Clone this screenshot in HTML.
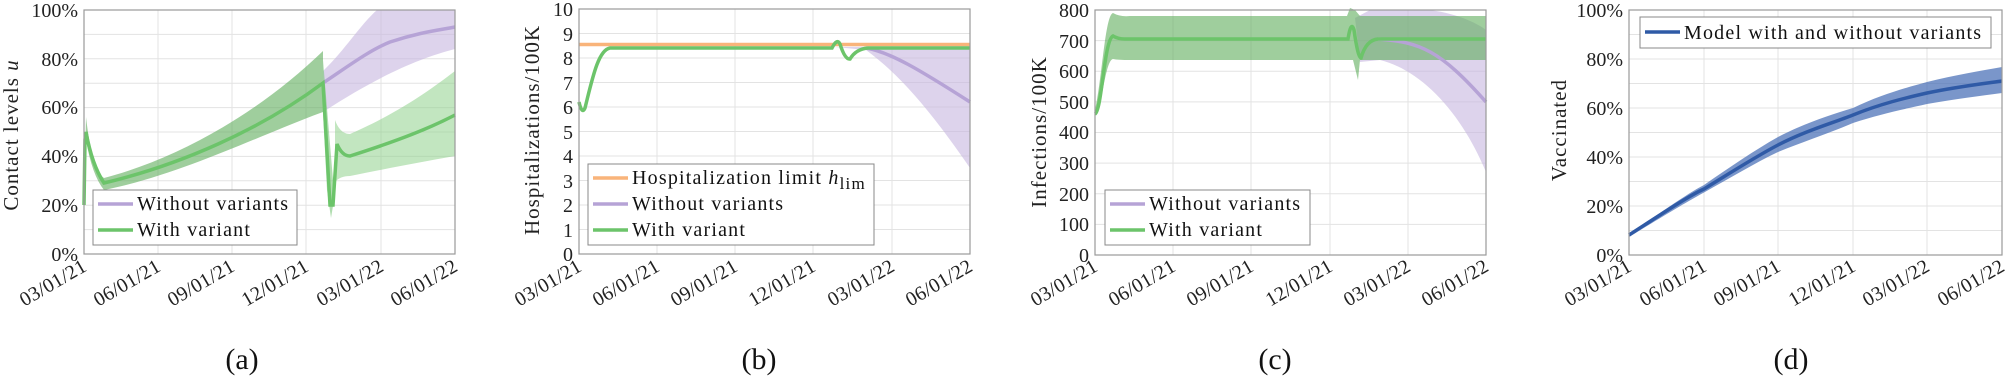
<!DOCTYPE html>
<html><head><meta charset="utf-8"><style>
html,body{margin:0;padding:0;background:#fff;}
svg{display:block;font-family:"Liberation Serif",serif;}
.g{stroke:#e3e3e3;stroke-width:1;}
.ax{fill:none;stroke:#9a9a9a;stroke-width:1.2;}
.t{font-size:20px;fill:#222;}
.xt{font-size:20px;fill:#222;letter-spacing:0.3px;}
.cap{font-size:30px;fill:#111;text-anchor:middle;}
.lg{font-size:20px;fill:#111;letter-spacing:1.2px;}
.yt{font-size:21px;fill:#222;letter-spacing:1px;}
</style></head><body>
<svg width="2007" height="377" viewBox="0 0 2007 377">
<!-- ===== Panel A ===== -->
<g>
<g class="g">
<line x1="84" y1="229.6" x2="455" y2="229.6"/><line x1="84" y1="205.2" x2="455" y2="205.2"/><line x1="84" y1="180.8" x2="455" y2="180.8"/><line x1="84" y1="156.4" x2="455" y2="156.4"/><line x1="84" y1="132" x2="455" y2="132"/><line x1="84" y1="107.6" x2="455" y2="107.6"/><line x1="84" y1="83.2" x2="455" y2="83.2"/><line x1="84" y1="58.8" x2="455" y2="58.8"/><line x1="84" y1="34.4" x2="455" y2="34.4"/>
<line x1="158" y1="10" x2="158" y2="254"/><line x1="232" y1="10" x2="232" y2="254"/><line x1="306" y1="10" x2="306" y2="254"/><line x1="381" y1="10" x2="381" y2="254"/>
</g>
<path d="M323,71 C345,50 360,25 377,10 L455,10 L455,49 C420,58 380,75 323,112 Z" fill="#c6b6df" opacity="0.6"/>
<path d="M84,205 L86,117 Q92,170 104,178 C180,158 260,112 323,51 L323,112 C260,135 180,175 104,190 Q92,175 86,140 L84,212 Z" fill="#5fae5c" opacity="0.6"/>
<path d="M323,60 L323,112 L327,190 L331,218 L334,200 L333,180 Z" fill="#7cc77a" opacity="0.6"/>
<path d="M335,120 Q340,134 350,134 C400,112 430,90 455,71 L455,156 C420,162 380,170 350,176 Q340,176 335,182 Z" fill="#8fd18c" opacity="0.55"/>
<path d="M323,83 C350,65 370,50 390,42 C420,32 440,30 455,27" fill="none" stroke="#b6a3d6" stroke-width="3.5"/>
<path d="M84,205 L85,140 L86,132 Q92,165 104,183 C180,165 260,130 323,83 L330,205 L333,205 L337,144 Q342,156 350,156 C400,140 430,128 455,115" fill="none" stroke="#6cc46a" stroke-width="3.5"/>
<rect x="84" y="10" width="371" height="244" class="ax"/>
<g class="t" text-anchor="end">
<text x="78" y="261">0%</text><text x="78" y="212">20%</text><text x="78" y="163">40%</text><text x="78" y="114">60%</text><text x="78" y="66">80%</text><text x="78" y="17">100%</text>
</g>
<g class="xt" text-anchor="end">
<text transform="translate(88,270) rotate(-30)">03/01/21</text><text transform="translate(162,270) rotate(-30)">06/01/21</text><text transform="translate(236,270) rotate(-30)">09/01/21</text><text transform="translate(310,270) rotate(-30)">12/01/21</text><text transform="translate(385,270) rotate(-30)">03/01/22</text><text transform="translate(459,270) rotate(-30)">06/01/22</text>
</g>
<text transform="translate(18,135) rotate(-90)" class="yt" text-anchor="middle">Contact levels <tspan font-style="italic">u</tspan></text>
<rect x="93" y="190" width="204" height="55" fill="#fff" stroke="#888" stroke-width="1"/>
<line x1="98" y1="204" x2="133" y2="204" stroke="#b6a3d6" stroke-width="3.5"/><text x="137" y="210" class="lg">Without variants</text>
<line x1="98" y1="230" x2="133" y2="230" stroke="#6cc46a" stroke-width="3.5"/><text x="137" y="236" class="lg">With variant</text>
<text x="242" y="369" class="cap">(a)</text>
</g>

<!-- ===== Panel B ===== -->
<g>
<g class="g">
<line x1="579" y1="229.5" x2="970" y2="229.5"/><line x1="579" y1="205" x2="970" y2="205"/><line x1="579" y1="180.5" x2="970" y2="180.5"/><line x1="579" y1="156" x2="970" y2="156"/><line x1="579" y1="131.5" x2="970" y2="131.5"/><line x1="579" y1="107" x2="970" y2="107"/><line x1="579" y1="82.5" x2="970" y2="82.5"/><line x1="579" y1="58" x2="970" y2="58"/><line x1="579" y1="33.5" x2="970" y2="33.5"/>
<line x1="657" y1="9" x2="657" y2="254"/><line x1="735" y1="9" x2="735" y2="254"/><line x1="813" y1="9" x2="813" y2="254"/><line x1="892" y1="9" x2="892" y2="254"/>
</g>
<path d="M835,47 L970,46 L970,168 C930,110 900,75 866,50 Z" fill="#c6b6df" opacity="0.6"/>
<line x1="579" y1="44.5" x2="970" y2="44.5" stroke="#f9b47a" stroke-width="3.5"/>
<path d="M866,48 C890,52 920,70 970,102" fill="none" stroke="#b6a3d6" stroke-width="3.5"/>
<path d="M579,102 Q582,115 585,108 C592,80 598,50 610,48 L832,48 Q837,38 840,44 Q845,60 850,59 Q856,49 868,48 L970,48" fill="none" stroke="#6cc46a" stroke-width="3.5"/>
<rect x="579" y="9" width="391" height="245" class="ax"/>
<g class="t" text-anchor="end">
<text x="573" y="261">0</text><text x="573" y="237">1</text><text x="573" y="212">2</text><text x="573" y="188">3</text><text x="573" y="163">4</text><text x="573" y="139">5</text><text x="573" y="114">6</text><text x="573" y="90">7</text><text x="573" y="65">8</text><text x="573" y="41">9</text><text x="573" y="16">10</text>
</g>
<g class="xt" text-anchor="end">
<text transform="translate(583,270) rotate(-30)">03/01/21</text><text transform="translate(661,270) rotate(-30)">06/01/21</text><text transform="translate(739,270) rotate(-30)">09/01/21</text><text transform="translate(817,270) rotate(-30)">12/01/21</text><text transform="translate(896,270) rotate(-30)">03/01/22</text><text transform="translate(974,270) rotate(-30)">06/01/22</text>
</g>
<text transform="translate(539,130) rotate(-90)" class="yt" text-anchor="middle">Hospitalizations/100K</text>
<rect x="588" y="164" width="286" height="81" fill="#fff" stroke="#888" stroke-width="1"/>
<line x1="593" y1="178" x2="628" y2="178" stroke="#f9b47a" stroke-width="3.5"/><text x="632" y="184" class="lg">Hospitalization limit <tspan font-style="italic">h</tspan><tspan font-size="17" dy="5">lim</tspan></text>
<line x1="593" y1="204" x2="628" y2="204" stroke="#b6a3d6" stroke-width="3.5"/><text x="632" y="210" class="lg">Without variants</text>
<line x1="593" y1="230" x2="628" y2="230" stroke="#6cc46a" stroke-width="3.5"/><text x="632" y="236" class="lg">With variant</text>
<text x="759" y="369" class="cap">(b)</text>
</g>

<!-- ===== Panel C ===== -->
<g>
<g class="g">
<line x1="1095" y1="224.4" x2="1486" y2="224.4"/><line x1="1095" y1="193.8" x2="1486" y2="193.8"/><line x1="1095" y1="163.1" x2="1486" y2="163.1"/><line x1="1095" y1="132.5" x2="1486" y2="132.5"/><line x1="1095" y1="101.9" x2="1486" y2="101.9"/><line x1="1095" y1="71.3" x2="1486" y2="71.3"/><line x1="1095" y1="40.6" x2="1486" y2="40.6"/>
<line x1="1173" y1="10" x2="1173" y2="255"/><line x1="1251" y1="10" x2="1251" y2="255"/><line x1="1330" y1="10" x2="1330" y2="255"/><line x1="1408" y1="10" x2="1408" y2="255"/>
</g>
<path d="M1355,18 L1370,10 L1430,10 C1460,14 1480,25 1486,30 L1486,172 C1460,110 1420,70 1380,60 L1360,62 Z" fill="#c6b6df" opacity="0.6"/>
<path d="M1095,110 C1102,80 1105,15 1113,13 Q1120,17 1130,16 L1347,16 L1350,8 L1355,10 L1360,16 L1486,16 L1486,60 L1360,60 L1358,80 L1353,60 L1130,60 Q1118,60 1113,59 C1105,60 1102,110 1095,116 Z" fill="#5fae5c" opacity="0.6"/>
<path d="M1378,39 C1420,42 1440,50 1486,102" fill="none" stroke="#b6a3d6" stroke-width="3.5"/>
<path d="M1095,114 C1102,110 1104,40 1113,36 Q1118,39 1125,39 L1348,39 Q1351,20 1354,30 Q1358,58 1361,58 Q1366,40 1378,39 L1486,39" fill="none" stroke="#6cc46a" stroke-width="3.5"/>
<rect x="1095" y="10" width="391" height="245" class="ax"/>
<g class="t" text-anchor="end">
<text x="1089" y="262">0</text><text x="1089" y="231">100</text><text x="1089" y="201">200</text><text x="1089" y="170">300</text><text x="1089" y="139">400</text><text x="1089" y="109">500</text><text x="1089" y="78">600</text><text x="1089" y="48">700</text><text x="1089" y="17">800</text>
</g>
<g class="xt" text-anchor="end">
<text transform="translate(1099,270) rotate(-30)">03/01/21</text><text transform="translate(1177,270) rotate(-30)">06/01/21</text><text transform="translate(1255,270) rotate(-30)">09/01/21</text><text transform="translate(1334,270) rotate(-30)">12/01/21</text><text transform="translate(1412,270) rotate(-30)">03/01/22</text><text transform="translate(1490,270) rotate(-30)">06/01/22</text>
</g>
<text transform="translate(1046,132) rotate(-90)" class="yt" text-anchor="middle">Infections/100K</text>
<rect x="1105" y="190" width="205" height="55" fill="#fff" stroke="#888" stroke-width="1"/>
<line x1="1110" y1="204" x2="1145" y2="204" stroke="#b6a3d6" stroke-width="3.5"/><text x="1149" y="210" class="lg">Without variants</text>
<line x1="1110" y1="230" x2="1145" y2="230" stroke="#6cc46a" stroke-width="3.5"/><text x="1149" y="236" class="lg">With variant</text>
<text x="1275" y="369" class="cap">(c)</text>
</g>

<!-- ===== Panel D ===== -->
<g>
<g class="g">
<line x1="1629" y1="230.5" x2="2002" y2="230.5"/><line x1="1629" y1="206" x2="2002" y2="206"/><line x1="1629" y1="181.5" x2="2002" y2="181.5"/><line x1="1629" y1="157" x2="2002" y2="157"/><line x1="1629" y1="132.5" x2="2002" y2="132.5"/><line x1="1629" y1="108" x2="2002" y2="108"/><line x1="1629" y1="83.5" x2="2002" y2="83.5"/><line x1="1629" y1="59" x2="2002" y2="59"/><line x1="1629" y1="34.5" x2="2002" y2="34.5"/>
<line x1="1704" y1="10" x2="1704" y2="255"/><line x1="1778" y1="10" x2="1778" y2="255"/><line x1="1853" y1="10" x2="1853" y2="255"/><line x1="1927" y1="10" x2="1927" y2="255"/>
</g>
<path d="M1629,234 C1660,213 1690,192 1704,185 C1730,167 1755,150 1778,137 C1805,123 1830,115 1853,108 C1880,95 1905,88 1927,82 C1955,75 1980,71 2002,67 L2002,93 C1980,96 1955,99 1927,104 C1905,109 1880,114 1853,123 C1830,133 1805,141 1778,152 C1755,163 1730,178 1704,192.5 C1690,200 1660,218 1629,237 Z" fill="#4d73b8" opacity="0.75"/>
<path d="M1629,235 C1660,215 1690,195 1704,189 C1730,173 1755,157 1778,145 C1805,131 1830,124 1853,115 C1880,104 1905,98 1927,93 C1955,87 1980,84 2002,81" fill="none" stroke="#2f5aa6" stroke-width="3.5"/>
<rect x="1629" y="10" width="373" height="245" class="ax"/>
<g class="t" text-anchor="end">
<text x="1623" y="262">0%</text><text x="1623" y="213">20%</text><text x="1623" y="164">40%</text><text x="1623" y="115">60%</text><text x="1623" y="66">80%</text><text x="1623" y="17">100%</text>
</g>
<g class="xt" text-anchor="end">
<text transform="translate(1633,270) rotate(-30)">03/01/21</text><text transform="translate(1708,270) rotate(-30)">06/01/21</text><text transform="translate(1782,270) rotate(-30)">09/01/21</text><text transform="translate(1857,270) rotate(-30)">12/01/21</text><text transform="translate(1931,270) rotate(-30)">03/01/22</text><text transform="translate(2006,270) rotate(-30)">06/01/22</text>
</g>
<text transform="translate(1566,130) rotate(-90)" class="yt" text-anchor="middle">Vaccinated</text>
<rect x="1640" y="17" width="351" height="31" fill="#fff" stroke="#888" stroke-width="1"/>
<line x1="1645" y1="32" x2="1680" y2="32" stroke="#2f5aa6" stroke-width="3.5"/><text x="1684" y="39" class="lg">Model with and without variants</text>
<text x="1791" y="369" class="cap">(d)</text>
</g>
</svg>
</body></html>
